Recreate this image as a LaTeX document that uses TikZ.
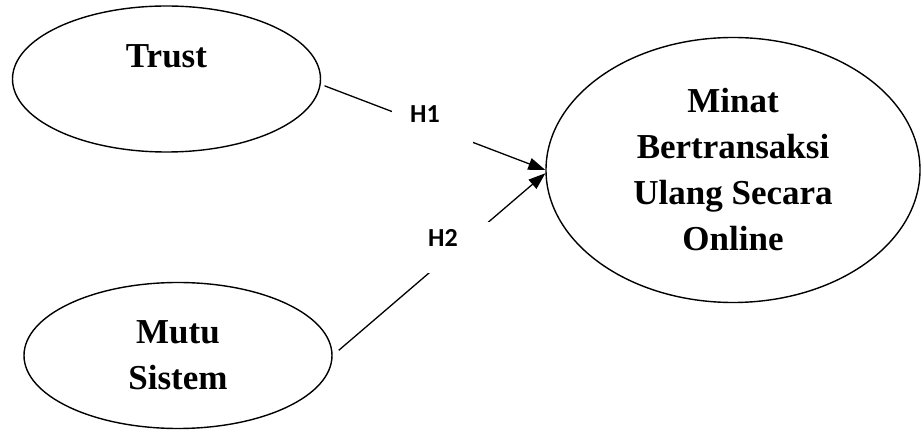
\documentclass[tikz,border=0pt]{standalone}
\usepackage{fontspec}
\usepackage{tikz}
\usetikzlibrary{arrows.meta,shapes.geometric}
\setmainfont{Liberation Serif}
\newfontfamily\hypfont{Carlito}
\tikzset{
  construct/.style={draw, ellipse, line width=1.4pt, inner sep=0pt, align=center,
    font=\fontsize{35}{46}\selectfont\bfseries},
  smallconstruct/.style={construct, minimum width=308pt, minimum height=146pt},
  hyplabel/.style={fill=white, inner ysep=0pt, align=left, anchor=north west,
    font=\hypfont\bfseries\fontsize{26}{30}\selectfont},
  arr/.style={-{Triangle[length=17pt,width=12pt]}, line width=1.3pt}
}

\begin{document}
\begin{tikzpicture}[x=1pt,y=1pt]
  \useasboundingbox (0,0) rectangle (921,431);
  \node[smallconstruct, text depth=45pt] (trust) at (166.5,352) {Trust};
  \node[smallconstruct] (mutu) at (178,75.5) {Mutu\\Sistem};
  \node[construct, minimum width=374pt, minimum height=265pt] (minat) at (733,261) {Minat\\Bertransaksi\\Ulang Secara\\Online};
  \draw[arr, shorten <=4pt] (trust.-2.5) -- (minat.180);
  \draw[arr, shorten <=8pt] (mutu.0) -- (minat.181.5);
  \node[hyplabel, inner xsep=18pt, text width=45pt, text height=22.3pt, text depth=20.7pt] (h1) at (392,331) {H1};
  \node[hyplabel, inner xsep=6pt, text width=62pt, text height=24pt, text depth=27pt] (h2) at (422,209) {H2};
\end{tikzpicture}
\end{document}
